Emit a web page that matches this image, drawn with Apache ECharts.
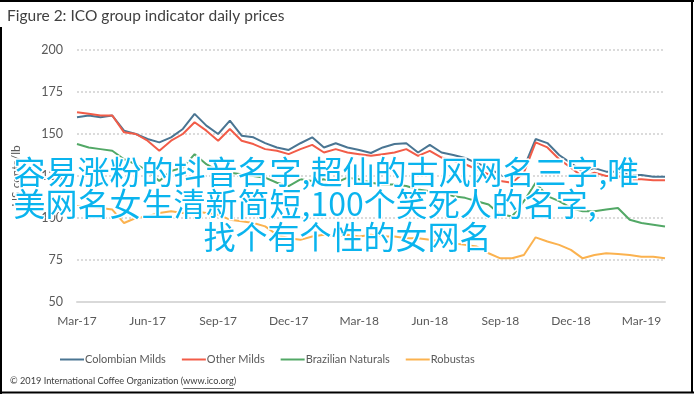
<!DOCTYPE html>
<html>
<head>
<meta charset="utf-8">
<script src="https://cdn.jsdelivr.net/npm/echarts@6/dist/echarts.min.js"></script>
<style>
html,body{margin:0;padding:0;background:#fff;}
#c{width:695px;height:394px;}
</style>
</head>
<body>
<div id="c"></div>
<script>
// Semi-monthly sample dates
const categories = [
 '2017-03-01','2017-03-16','2017-04-01','2017-04-16','2017-05-01','2017-05-16','2017-06-01','2017-06-16',
 '2017-07-01','2017-07-16','2017-08-01','2017-08-16','2017-09-01','2017-09-16','2017-10-01','2017-10-16',
 '2017-11-01','2017-11-16','2017-12-01','2017-12-16','2018-01-01','2018-01-16','2018-02-01','2018-02-16',
 '2018-03-01','2018-03-16','2018-04-01','2018-04-16','2018-05-01','2018-05-16','2018-06-01','2018-06-16',
 '2018-07-01','2018-07-16','2018-08-01','2018-08-16','2018-09-01','2018-09-16','2018-10-01','2018-10-16',
 '2018-11-01','2018-11-16','2018-12-01','2018-12-16','2019-01-01','2019-01-16','2019-02-01','2019-02-16',
 '2019-03-01','2019-03-16','2019-03-29'
];
const tickLabels = {
 '2017-03-01':'Mar-17','2017-06-01':'Jun-17','2017-09-01':'Sep-17','2017-12-01':'Dec-17',
 '2018-03-01':'Mar-18','2018-06-01':'Jun-18','2018-09-01':'Sep-18','2018-12-01':'Dec-18',
 '2019-03-01':'Mar-19'
};
const colombianMilds = [
 160,161,160,161,152,150,147,145,148,153,162,155,150,158,149,148,
 144.6,142,140.5,144.5,148,142,144.5,142,140.5,138.7,142,144,144.5,139,143.5,139,
 137.5,135.7,132.7,130,125.6,123.8,130,147,144.6,137.5,132.7,127.6,129.7,127.6,127.6,125.6,
 125.6,124.5,124.5
];
const otherMilds = [
 163,162,161,161,151,150,146,140,146,150,157,152,146,153,146,144,
 141,140,138,141,143.5,139,141,139,138,137,138,139,141,137,140,136,
 134,132,129,126,122,121,127,145,142,135,130,124.5,127,125,125,123,
 123,122.5,122.5
];
const brazilianNaturals = [
 144,142,141,140,135,132,128,122,128,130,138,132,128,127,126,125,
 124,121,119,123,122,123,121,124,123,121,120,120,119,117,116,115,
 113,112,110,108,102,101,110,121,113,110,106,104,104,105,106,99,
 97,96,95
];
const robustas = [
 107,107,106,105,97,100,101,103,104,103,104,103,102,99,98,97,
 95,90,88,87,89,90,89,90,89,90,89,89,88,88,87,86,
 85,84,83,79,76,76,78,88.5,86,84,81,76,78,79,78.5,78,
 77,77,76
];
const seriesNames = ['Colombian Milds','Other Milds','Brazilian Naturals','Robustas'];
const seriesColors = ['#4a7592','#f25c48','#52a866','#fbb24f'];
const yTicks = {min:50, max:200, interval:25};
const overlayLines = ['容易涨粉的抖音名字,超仙的古风网名三字,唯','美网名女生清新简短,100个笑死人的名字,','找个有个性的女网名'];
const footerPrefix = '© 2019 International Coffee Organization (';
const footerUrl = 'www.ico.org';

const chart = echarts.init(document.getElementById('c'), null, {renderer:'canvas'});
const font = 'Lato, "Open Sans", sans-serif';
const footerFont = '9.2px ' + font;
const mctx = document.createElement('canvas').getContext('2d');
mctx.font = footerFont;
const preW = mctx.measureText(footerPrefix).width;
const urlW = mctx.measureText(footerUrl).width;
const valuesList = [colombianMilds, otherMilds, brazilianNaturals, robustas];
const option = {
  animation:false,
  backgroundColor:'#fff',
  title:{text:'Figure 2: ICO group indicator daily prices', left:2, top:3,
    textStyle:{fontFamily:font, fontSize:15.5, fontWeight:'normal', color:'#404040'}},
  grid:{left:77, right:30, top:50, bottom:92},
  legend:{left:55, top:349, itemWidth:24, itemHeight:2, itemGap:16, icon:'rect',
    textStyle:{fontFamily:font, fontSize:11, color:'#595959', padding:[0,0,0,-4]},
    data:seriesNames},
  xAxis:{type:'category', data:categories, boundaryGap:false,
    axisLine:{lineStyle:{color:'#d9d9d9', width:2}}, axisTick:{show:false},
    axisLabel:{interval:(i,v)=>!!tickLabels[v], formatter:v=>tickLabels[v]||'',
      fontFamily:font, fontSize:12, color:'#595959', margin:13}},
  yAxis:{type:'value', min:yTicks.min, max:yTicks.max, interval:yTicks.interval,
    name:'US cents/lb', nameLocation:'middle', nameGap:55, nameRotate:90,
    nameTextStyle:{fontFamily:font, fontSize:12, color:'#595959'},
    axisLine:{show:false}, axisTick:{show:false},
    axisLabel:{fontFamily:font, fontSize:12.5, color:'#595959', margin:14},
    splitLine:{lineStyle:{color:'#d0d0d0', type:[2,2], width:1.5}}},
  series: seriesNames.map((n,i)=>({name:n, type:'line', data:valuesList[i], symbol:'none',
    lineStyle:{color:seriesColors[i], width:2}, itemStyle:{color:seriesColors[i]}})),
  graphic:[
    {type:'line', shape:{x1:0,y1:1,x2:694,y2:1}, style:{stroke:'#000', lineWidth:2}, z:50},
    {type:'line', shape:{x1:692,y1:0,x2:692,y2:393}, style:{stroke:'#000', lineWidth:2}, z:50},
    {type:'line', shape:{x1:0,y1:392.5,x2:694,y2:392.5}, style:{stroke:'#000', lineWidth:2}, z:50},
    {type:'line', shape:{x1:1,y1:27,x2:1,y2:394}, style:{stroke:'#000', lineWidth:2}, z:50},
    {type:'text', left:10, top:377, z:50, style:{text:footerPrefix + footerUrl + ')',
      font:footerFont, fill:'#404040'}},
    {type:'line', shape:{x1:10+preW,y1:388.5,x2:10+preW+urlW,y2:388.5}, style:{stroke:'#404040', lineWidth:0.8}, z:50},
    {type:'text', left:12, top:154, z:100, style:{text:overlayLines[0], font:'32px "Noto Sans CJK SC"', fill:'#0ab4ee', stroke:'#fff', lineWidth:3}},
    {type:'text', left:12, top:186, z:100, style:{text:overlayLines[1], font:'32px "Noto Sans CJK SC"', fill:'#0ab4ee', stroke:'#fff', lineWidth:3}},
    {type:'text', left:202, top:219, z:100, style:{text:overlayLines[2], font:'32px "Noto Sans CJK SC"', fill:'#0ab4ee', stroke:'#fff', lineWidth:3}}
  ]
};
chart.setOption(option);
</script>
</body>
</html>
